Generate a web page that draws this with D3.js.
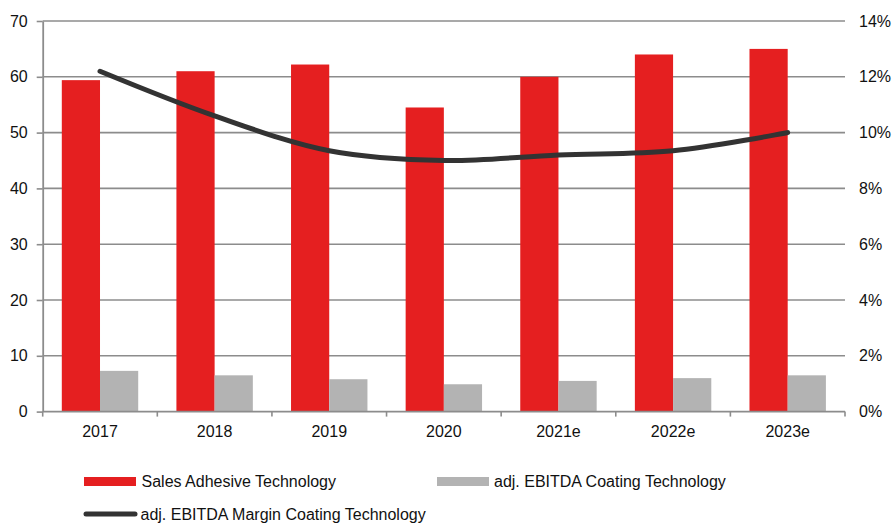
<!DOCTYPE html>
<html>
<head>
<meta charset="utf-8">
<script src="https://cdn.jsdelivr.net/npm/d3@7"></script>
<style>
  html, body { margin: 0; padding: 0; background: #fff; }
  svg { display: block; font-family: "Liberation Sans", Arial, sans-serif; }
</style>
</head>
<body>
<svg id="chart" width="892" height="523"></svg>
<script>
// Chart data
const categories = ["2017", "2018", "2019", "2020", "2021e", "2022e", "2023e"];
const salesAdhesive = [59.4, 61.0, 62.2, 54.5, 60.0, 64.0, 65.0];
const ebitdaCoating = [7.3, 6.5, 5.8, 4.9, 5.5, 6.0, 6.5];
const marginCoating = [0.122, 0.106, 0.0935, 0.090, 0.092, 0.0935, 0.100];
const leftTicks = [0, 10, 20, 30, 40, 50, 60, 70];
const rightTicks = [0, 0.02, 0.04, 0.06, 0.08, 0.10, 0.12, 0.14];
const seriesNames = ["Sales Adhesive Technology", "adj. EBITDA Coating Technology", "adj. EBITDA Margin Coating Technology"];

const RED = "#e51f20", GREY = "#b3b3b3", LINE = "#333333", AXIS = "#8c8c8c";
const FS = 16;
const svg = d3.select("#chart");
const plot = { left: 42.7, right: 845, top: 21, bottom: 411.6 };

const x = d3.scaleBand().domain(categories).range([plot.left, plot.right]).paddingInner(0).paddingOuter(0);
const xSub = d3.scaleBand().domain(["sales", "ebitda"]).range([0, x.bandwidth()]).paddingInner(0).paddingOuter(0.5);
const y = d3.scaleLinear().domain([0, 70]).range([plot.bottom, plot.top]);
const y2 = d3.scaleLinear().domain([0, 0.14]).range([plot.bottom, plot.top]);

// Horizontal gridlines
svg.append("g").selectAll("line").data(leftTicks.filter(d => d > 0)).join("line")
  .attr("x1", plot.left).attr("x2", plot.right)
  .attr("y1", d => y(d)).attr("y2", d => y(d))
  .attr("stroke", AXIS).attr("stroke-width", 1.6);

// Bars
const groups = svg.append("g").selectAll("g").data(categories).join("g")
  .attr("transform", d => `translate(${x(d)},0)`);
groups.append("rect")
  .attr("x", xSub("sales")).attr("width", xSub.bandwidth())
  .attr("y", (d, i) => y(salesAdhesive[i]))
  .attr("height", (d, i) => y(0) - y(salesAdhesive[i]))
  .attr("fill", RED);
groups.append("rect")
  .attr("x", xSub("ebitda")).attr("width", xSub.bandwidth())
  .attr("y", (d, i) => y(ebitdaCoating[i]))
  .attr("height", (d, i) => y(0) - y(ebitdaCoating[i]))
  .attr("fill", GREY);

// Left axis
const leftAxis = svg.append("g").attr("transform", `translate(${plot.left},0)`)
  .call(d3.axisLeft(y).tickValues(leftTicks).tickSize(6).tickPadding(9).tickSizeOuter(0));
leftAxis.select(".domain").attr("stroke", AXIS).attr("stroke-width", 1.8);
leftAxis.selectAll(".tick line").attr("stroke", AXIS).attr("stroke-width", 1.6);
leftAxis.selectAll(".tick text").attr("font-size", FS).attr("fill", "#111")
  .attr("font-family", "Liberation Sans, Arial, sans-serif");

// Right axis (labels only)
const rightAxis = svg.append("g").attr("transform", `translate(${plot.right},0)`)
  .call(d3.axisRight(y2).tickValues(rightTicks).tickFormat(d3.format(".0%")).tickSize(0).tickPadding(14));
rightAxis.select(".domain").remove();
rightAxis.selectAll(".tick text").attr("font-size", FS).attr("fill", "#111")
  .attr("font-family", "Liberation Sans, Arial, sans-serif");

// Bottom axis with ticks at category boundaries
const bottom = svg.append("g");
bottom.append("line").attr("x1", plot.left).attr("x2", plot.right)
  .attr("y1", plot.bottom).attr("y2", plot.bottom)
  .attr("stroke", AXIS).attr("stroke-width", 1.8);
const boundaries = categories.map(d => x(d)).concat([x(categories[categories.length - 1]) + x.bandwidth()]);
bottom.selectAll("line.tk").data(boundaries).join("line").attr("class", "tk")
  .attr("x1", d => d).attr("x2", d => d)
  .attr("y1", plot.bottom).attr("y2", plot.bottom + 5)
  .attr("stroke", AXIS).attr("stroke-width", 1.6);
bottom.selectAll("text").data(categories).join("text")
  .attr("x", d => x(d) + x.bandwidth() / 2).attr("y", 436.5)
  .attr("text-anchor", "middle").attr("font-size", FS).attr("fill", "#111")
  .text(d => d);

// Margin line, smoothed
const line = d3.line()
  .x((d, i) => x(categories[i]) + x.bandwidth() / 2)
  .y(d => y2(d))
  .curve(d3.curveCatmullRom.alpha(0.5));
svg.append("path").datum(marginCoating)
  .attr("d", line).attr("fill", "none")
  .attr("stroke", LINE).attr("stroke-width", 5).attr("stroke-linecap", "round");

// Legend
const legend = svg.append("g").attr("font-size", FS).attr("fill", "#111");
legend.append("rect").attr("x", 84).attr("y", 477).attr("width", 52).attr("height", 9).attr("fill", RED);
legend.append("text").attr("x", 141.5).attr("y", 487).text(seriesNames[0]);
legend.append("rect").attr("x", 437).attr("y", 477).attr("width", 52).attr("height", 9).attr("fill", GREY);
legend.append("text").attr("x", 494).attr("y", 487).text(seriesNames[1]);
legend.append("line").attr("x1", 86).attr("x2", 135).attr("y1", 514).attr("y2", 514)
  .attr("stroke", LINE).attr("stroke-width", 5).attr("stroke-linecap", "round");
legend.append("text").attr("x", 140.5).attr("y", 520).text(seriesNames[2]);
</script>
</body>
</html>
